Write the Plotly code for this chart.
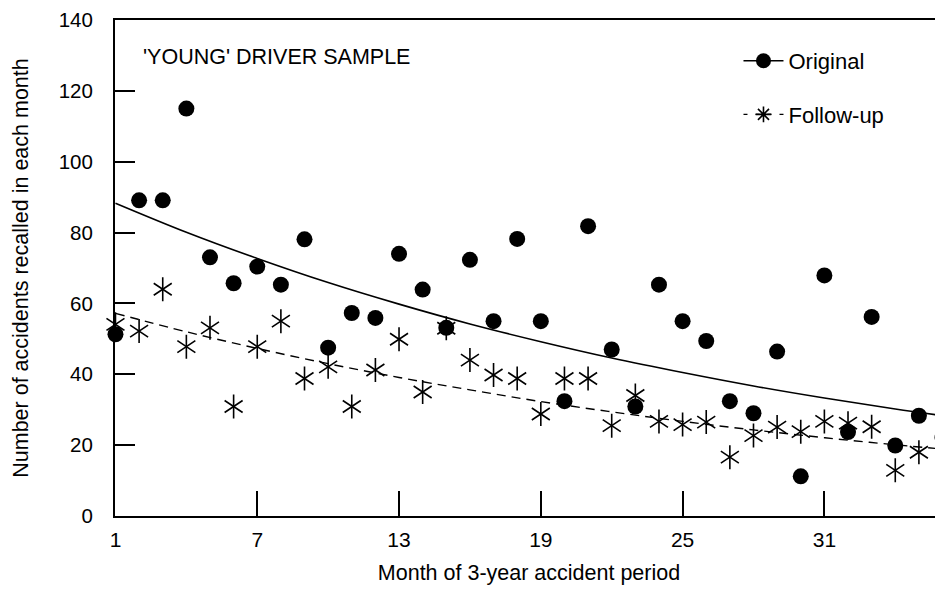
import plotly.graph_objects as go

# ---------------- data ----------------
months_original = list(range(1, 37))
original = [51.3, 89.1, 89.1, 115, 73, 65.7, 70.4, 65.3, 78.1, 47.5,
            57.3, 55.9, 74, 63.9, 53.1, 72.3, 55, 78.2, 55, 32.4,
            81.8, 47, 30.9, 65.3, 55, 49.4, 32.4, 29, 46.4, 11.2,
            67.9, 23.7, 56.2, 19.9, 28.3, 22.2]

months_followup = list(range(1, 36))
followup = [54.1, 52.2, 64, 47.8, 53.1, 30.9, 47.8, 55, 38.8, 42.1,
            30.9, 41.2, 49.9, 35, 53, 44, 39.8, 38.8, 28.8, 38.8,
            38.8, 25.5, 34, 26.7, 25.8, 26.5, 16.6, 22.7, 25.1, 23.8,
            26.7, 26.2, 25.2, 12.9, 18]

trend_months = [1, 4, 7, 10, 13, 16, 19, 22, 25, 28, 31, 34, 37]
trend_original = [88.3, 80.1, 72.7, 65.9, 59.8, 54.2, 49.2, 44.6, 40.5, 36.7, 33.3, 30.2, 27.4]
trend_followup = [57.2, 52.0, 47.3, 43.0, 39.1, 35.6, 32.3, 29.4, 26.7, 24.3, 22.1, 20.1, 18.3]

x_ticks = [1, 7, 13, 19, 25, 31]
y_ticks = [0, 20, 40, 60, 80, 100, 120, 140]

FONT = "Liberation Sans, Arial, Helvetica, sans-serif"

fig = go.Figure()

# trend lines
fig.add_trace(go.Scatter(x=trend_months, y=trend_original, mode="lines",
                         line=dict(color="black", width=1.6, shape="spline"),
                         showlegend=False, hoverinfo="skip"))
fig.add_trace(go.Scatter(x=trend_months, y=trend_followup, mode="lines",
                         line=dict(color="black", width=1.4, shape="spline", dash="9px,6px"),
                         showlegend=False, hoverinfo="skip"))

# follow-up asterisks (6-armed: two overlaid 3-armed symbols)
for sym in ["y-up-open", "y-down-open"]:
    fig.add_trace(go.Scatter(x=months_followup, y=followup, mode="markers",
                             marker=dict(symbol=sym, size=15, color="black",
                                         line=dict(color="black", width=1.6)),
                             cliponaxis=False, showlegend=False))

# original circles
fig.add_trace(go.Scatter(x=months_original, y=original, mode="markers",
                         marker=dict(symbol="circle", size=16, color="black"),
                         cliponaxis=False, showlegend=False))

# legend entries
fig.add_trace(go.Scatter(x=[None], y=[None], mode="lines+markers", name="Original",
                         legendgroup="a",
                         line=dict(color="black", width=1.6),
                         marker=dict(symbol="circle", size=15, color="black")))
fig.add_trace(go.Scatter(x=[None], y=[None], mode="lines+markers", name="Follow-up",
                         legendgroup="b",
                         line=dict(color="black", width=1.4, dash="4px,8px"),
                         marker=dict(symbol="asterisk-open", size=13, color="black",
                                     line=dict(color="black", width=1.6))))

PLOT_TOP, PLOT_BOTTOM = 20, 516   # window pixels

fig.add_annotation(text="'YOUNG' DRIVER SAMPLE", xref="paper", yref="paper",
                   x=(141 - 115) / 828, y=(PLOT_BOTTOM - 57) / (PLOT_BOTTOM - PLOT_TOP),
                   xanchor="left", yanchor="middle", showarrow=False,
                   font=dict(family=FONT, size=21.5, color="black"))

# page body has an 8px default margin: figure is sized to fill the remaining window
fig.update_layout(
    width=935, height=581,
    margin=dict(l=107, r=0, t=PLOT_TOP - 8, b=73, pad=0),
    paper_bgcolor="white", plot_bgcolor="white",
    font=dict(family=FONT, size=21, color="black"),
    showlegend=True,
    legend=dict(x=0.753, y=(PLOT_BOTTOM - 40) / (PLOT_BOTTOM - PLOT_TOP),
                xanchor="left", yanchor="top",
                bgcolor="rgba(0,0,0,0)", font=dict(size=22),
                tracegroupgap=22, itemwidth=40),
    xaxis=dict(range=[0.98, 36.02], tickvals=x_ticks, ticks="inside", ticklen=25,
               tickwidth=1.5, tickcolor="black", showline=True, linewidth=2,
               linecolor="black", mirror=True, showgrid=False, zeroline=False,
               ticklabelstandoff=4, automargin=False, ticklabeloverflow="allow",
               title=dict(text="Month of 3-year accident period", standoff=15,
                          font=dict(size=21.5))),
    yaxis=dict(range=[0, 140], tickvals=y_ticks, ticks="inside", ticklen=20,
               tickwidth=1.5, tickcolor="black", showline=True, linewidth=2,
               linecolor="black", showgrid=False, zeroline=False,
               ticklabelstandoff=16, automargin=False, ticklabeloverflow="allow",
               tickfont=dict(size=20.5),
               title=dict(text="Number of accidents recalled in each month", standoff=24,
                          font=dict(size=21.5))),
)

fig.write_html("out.html")
